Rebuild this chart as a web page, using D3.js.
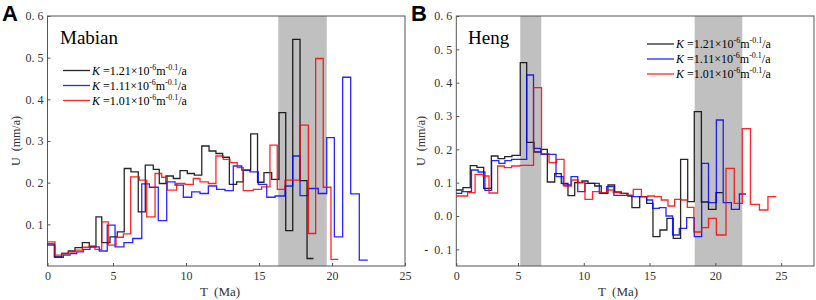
<!DOCTYPE html>
<html>
<head>
<meta charset="utf-8">
<script src="https://cdn.jsdelivr.net/npm/d3@7"></script>
<style>
  body { margin: 0; background: #fff; }
  text { white-space: pre; }
</style>
</head>
<body>
<svg id="chart" width="816" height="300"></svg>
<script>
// ---- data (T in Ma = step start times, last entry = end time; U in mm/a) ----
const aBlackT = [0,0.52,1.08,1.59,2.10,2.66,3.19,3.70,4.14,4.77,5.29,5.77,6.23,6.73,7.21,7.76,8.17,8.63,9.13,9.59,10.09,10.57,11.08,11.58,12.05,12.51,12.97,13.47,13.92,14.43,14.90,15.34,15.87,16.37,16.83,17.31,17.81,18.29,18.73];
const aBlackU = [0.053,0.022,0.030,0.036,0.044,0.056,0.046,0.118,0.056,0.070,0.082,0.234,0.226,0.130,0.242,0.232,0.198,0.216,0.210,0.229,0.222,0.218,0.288,0.276,0.270,0.261,0.196,0.202,0.230,0.317,0.201,0.224,0.208,0.368,0.085,0.544,0.205,0.018];
const aBlueT = [0,0.57,1.21,1.72,2.23,2.73,3.24,3.95,4.56,5.14,5.75,6.35,6.97,7.49,8.10,8.68,9.25,9.82,10.39,10.96,11.53,12.10,12.67,13.24,13.82,14.38,14.95,15.53,16.10,16.78,17.31,17.81,18.38,19.06,19.64,20.16,20.73,21.28,21.87,22.45];
const aBlueU = [0.050,0.021,0.026,0.030,0.034,0.040,0.046,0.036,0.098,0.046,0.056,0.066,0.197,0.189,0.109,0.202,0.194,0.165,0.178,0.174,0.192,0.184,0.181,0.240,0.230,0.226,0.196,0.165,0.168,0.192,0.264,0.169,0.186,0.174,0.308,0.070,0.453,0.173,0.014];
const aRedT = [0,0.57,1.08,1.59,2.10,2.66,3.19,3.63,4.14,4.64,5.21,5.71,6.21,6.80,7.31,7.88,8.34,8.72,9.36,9.93,10.50,10.96,11.53,12.05,12.55,13.01,13.51,13.92,14.61,15.18,15.75,16.25,16.78,17.81,18.38,18.88,19.40,19.93,20.43];
const aRedU = [0.058,0.026,0.030,0.034,0.038,0.045,0.048,0.040,0.106,0.050,0.069,0.077,0.214,0.206,0.118,0.222,0.213,0.182,0.198,0.196,0.210,0.202,0.198,0.264,0.256,0.248,0.236,0.181,0.184,0.190,0.290,0.184,0.206,0.338,0.078,0.498,0.189,0.016];

const bBlackT = [0,0.54,1.13,1.67,2.22,2.84,3.38,3.92,4.51,5.17,5.66,6.22,6.77,7.23,7.79,8.29,8.80,9.31,9.86,10.32,10.83,11.33,11.84,12.35,12.85,13.36,13.66,14.25,14.78,15.26,15.79,16.32,16.80,17.36,17.90,18.40,18.94,19.48,20.05,20.56];
const bBlackU = [0.078,0.085,0.151,0.146,0.083,0.180,0.172,0.178,0.182,0.460,0.221,0.192,0.200,0.102,0.127,0.098,0.061,0.100,0.105,0.098,0.090,0.068,0.093,0.072,0.068,0.060,0.025,0.058,0.038,-0.062,-0.042,-0.007,-0.067,0.170,0.043,0.313,0.042,0.020,0.070];
const bBlueT = [0,0.44,1.23,1.77,2.32,2.86,3.45,3.94,4.48,5.66,6.18,6.75,7.89,8.44,9.03,9.54,10.09,11.18,11.74,12.29,13.64,14.78,15.24,15.74,16.25,16.75,17.26,17.82,18.40,18.96,19.48,20.08,20.60,21.22,21.83,22.34];
const bBlueU = [0.068,0.073,0.138,0.132,0.077,0.166,0.158,0.166,0.170,0.423,0.203,0.185,0.118,0.093,0.118,0.073,0.098,0.068,0.088,0.062,0.058,0.048,0.023,0.025,0.000,-0.057,-0.037,-0.005,-0.062,0.158,0.040,0.288,0.040,0.020,0.066];
const bRedT = [0,0.92,1.52,2.17,2.65,3.35,3.89,4.48,5.15,6.18,6.79,7.36,7.93,8.50,9.07,9.58,10.09,10.67,11.23,11.74,12.24,12.75,13.26,13.76,14.38,14.88,15.39,15.89,16.40,16.91,17.41,17.87,18.37,18.95,19.48,20.08,20.81,21.44,22.05,22.67,23.35,24.0,24.64];
const bRedU = [0.060,0.070,0.125,0.120,0.069,0.150,0.145,0.150,0.152,0.385,0.187,0.160,0.170,0.090,0.108,0.100,0.050,0.073,0.070,0.078,0.070,0.068,0.062,0.080,0.058,0.060,0.058,0.048,0.030,0.050,0.048,0.026,-0.048,-0.035,-0.007,-0.057,0.143,0.038,0.262,0.035,0.018,0.058];

const aBands = [[16.32, 19.64]];
const bBands = [[5.17, 6.77], [18.43, 22.05]];

const xTicks = [0, 5, 10, 15, 20, 25];
const aYTicks = [0.1, 0.2, 0.3, 0.4, 0.5, 0.6];
const bYTicks = [-0.1, 0.0, 0.1, 0.2, 0.3, 0.4, 0.5, 0.6];
const kLabels = ['1.21', '1.11', '1.01'];
const colors = ['#000000', '#0000ff', '#ff0000'];

const svg = d3.select('#chart');
const serif = "'Liberation Serif', 'Times New Roman', serif";

function panel(opts) {
    const g = svg.append('g');
    const x = d3.scaleLinear().domain(opts.xDomain).range(opts.xRange);
    const y = d3.scaleLinear().domain(opts.yDomain).range([266, 16]);
    const [x0, x1] = [opts.xRange[0], opts.xRange[opts.xRange.length - 1]];

    // shaded intervals
    g.selectAll('.band')
        .data(opts.bands)
        .enter().append('rect')
        .attr('x', d => x(d[0]))
        .attr('y', 16)
        .attr('width', d => x(d[1]) - x(d[0]))
        .attr('height', 250)
        .attr('fill', '#c0c0c0');

    // x axis
    const xa = g.append('g')
        .attr('transform', 'translate(0,266)')
        .call(d3.axisBottom(x).tickValues(xTicks).tickSize(-3).tickPadding(5).tickFormat(d3.format('d')));
    xa.select('.domain').remove();
    xa.selectAll('line').attr('stroke', '#555');
    xa.selectAll('text').style('font-family', serif).style('font-size', '12px').attr('fill', '#333');

    // y axis
    const ya = g.append('g')
        .attr('transform', `translate(${x0},0)`)
        .call(d3.axisLeft(y).tickValues(opts.yTicks).tickSize(-3).tickPadding(4)
            .tickFormat(d => (d < 0 ? '-  ' : '') + Math.abs(d).toFixed(1).replace('.', '. ')));
    ya.select('.domain').remove();
    ya.selectAll('line').attr('stroke', '#555');
    ya.selectAll('text').style('font-family', serif).style('font-size', '12px').attr('fill', '#333');

    // frame
    g.append('rect')
        .attr('x', x0).attr('y', 16)
        .attr('width', x1 - x0).attr('height', 250)
        .attr('fill', 'none').attr('stroke', '#555').attr('stroke-width', 1);

    // step lines
    const line = d3.line().x(d => x(d[0])).y(d => y(d[1])).curve(d3.curveStepAfter);
    opts.series.forEach((s, i) => {
        const pts = s.u.map((u, k) => [s.t[k], u]);
        pts.push([s.t[s.u.length], s.u[s.u.length - 1]]);
        g.append('path')
            .datum(pts)
            .attr('d', line)
            .attr('fill', 'none')
            .attr('stroke', colors[i])
            .attr('stroke-width', 1.3)
            .attr('stroke-opacity', 0.85);
    });

    // axis titles
    g.append('text')
        .attr('x', opts.xTitleX).attr('y', 296)
        .attr('text-anchor', 'middle')
        .style('font-family', serif).style('font-size', '13px').attr('fill', '#333')
        .text('T  (Ma)');
    g.append('text')
        .attr('transform', `translate(${opts.yTitleX},141) rotate(-90)`)
        .attr('text-anchor', 'middle')
        .style('font-family', serif).style('font-size', '12px').attr('fill', '#333')
        .text('U  (mm/a)');

    // panel letter and site name
    g.append('text')
        .attr('x', opts.letterX).attr('y', 21)
        .style('font-family', "'Liberation Sans', Arial, sans-serif")
        .style('font-size', '22px').style('font-weight', 'bold')
        .text(opts.letter);
    g.append('text')
        .attr('x', opts.nameX).attr('y', 44)
        .style('font-family', serif).style('font-size', '19px')
        .text(opts.name);

    // legend
    const lg = g.append('g');
    kLabels.forEach((k, i) => {
        const ly = opts.legY + i * 15;
        lg.append('line')
            .attr('x1', opts.legX).attr('x2', opts.legX + 27)
            .attr('y1', ly).attr('y2', ly)
            .attr('stroke', colors[i]).attr('stroke-width', 1.3).attr('stroke-opacity', 0.85);
        const t = lg.append('text')
            .attr('x', opts.legX + 29).attr('y', ly + 4)
            .style('font-family', serif).style('font-size', '12px');
        t.append('tspan').style('font-style', 'italic').text('K');
        t.append('tspan').text(' =' + k + '×10');
        t.append('tspan').attr('dy', -5).style('font-size', '8px').text('-6');
        t.append('tspan').attr('dy', 5).text('m');
        t.append('tspan').attr('dy', -5).style('font-size', '8px').text('-0.1');
        t.append('tspan').attr('dy', 5).text('/a');
    });
}

panel({
    xDomain: [0, 5, 25], xRange: [47.5, 113, 405],
    yDomain: [0, 0.6], yTicks: aYTicks, bands: aBands,
    series: [{ t: aBlackT, u: aBlackU }, { t: aBlueT, u: aBlueU }, { t: aRedT, u: aRedU }],
    xTitleX: 220, yTitleX: 20, letter: 'A', letterX: 2, name: 'Mabian', nameX: 60,
    legX: 63, legY: 70.5
});

panel({
    xDomain: [0, 5, 27.5], xRange: [456.3, 518, 814],
    yDomain: [-0.15, 0.6], yTicks: bYTicks, bands: bBands,
    series: [{ t: bBlackT, u: bBlackU }, { t: bBlueT, u: bBlueU }, { t: bRedT, u: bRedU }],
    xTitleX: 618, yTitleX: 425, letter: 'B', letterX: 411, name: 'Heng', nameX: 468,
    legX: 647, legY: 44
});
</script>
</body>
</html>
